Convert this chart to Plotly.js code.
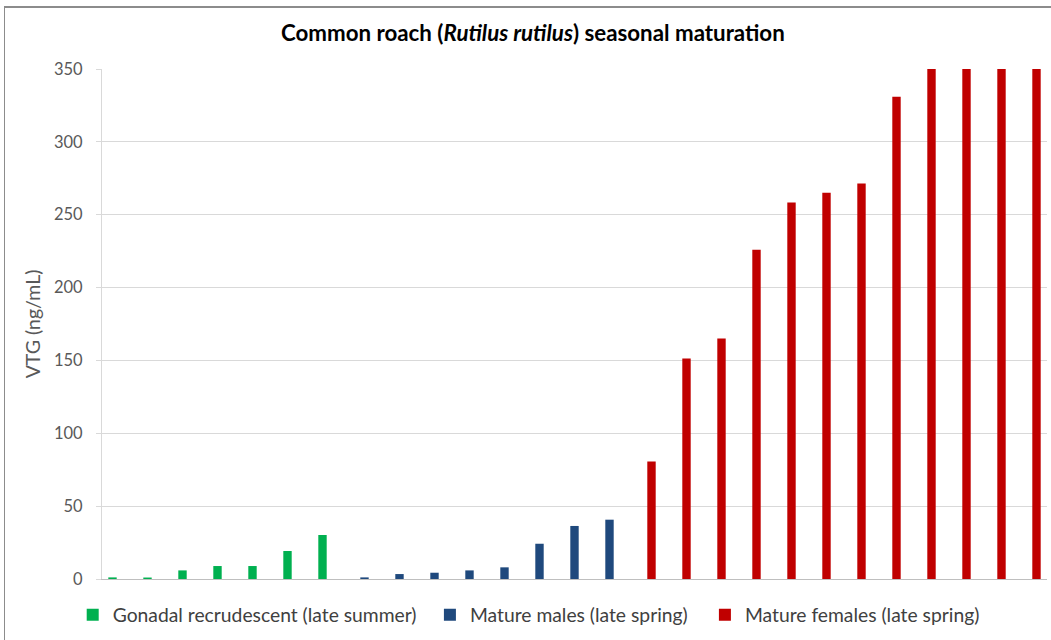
<!DOCTYPE html>
<html>
<head>
<meta charset="utf-8">
<script src="https://cdn.plot.ly/plotly-3.0.1.min.js"></script>
<style>
  html, body { margin: 0; padding: 0; background: #ffffff; }
  #frame { position: absolute; left: 4px; top: 6px; width: 1060px; height: 660px;
           border-left: 1px solid #8c8c8c; border-top: 2px solid #8c8c8c; box-sizing: border-box; }
  #chart { position: absolute; left: 0; top: 0; width: 1051px; height: 640px; }
</style>
</head>
<body>
<div id="frame"></div>
<div id="chart"></div>
<script>
// ---- data ----
const greenCats = ["G1","G2","G3","G4","G5","G6","G7"];
const greenVals = [1.1, 1.0, 5.9, 8.9, 8.9, 19.2, 30.2];

const blueCats = ["M1","M2","M3","M4","M5","M6","M7","M8"];
const blueVals = [1.1, 3.4, 4.3, 5.9, 8.0, 24.2, 36.4, 40.7];

const redCats = ["F1","F2","F3","F4","F5","F6","F7","F8","F9","F10","F11","F12"];
const redVals = [80.7, 151.4, 165.1, 226, 258.3, 265.1, 271.5, 331, 380, 420, 470, 520];

const seriesNames = [
  "Gonadal recrudescent (late summer)",
  "Mature males (late spring)",
  "Mature females (late spring)"
];
const yTicks = [0, 50, 100, 150, 200, 250, 300, 350];

// ---- styling ----
const FONT = "Lato, 'Open Sans', sans-serif";
const BW = 0.24;
const allCats = greenCats.concat(blueCats, redCats);

const traces = [
  { type: "bar", x: greenCats, y: greenVals, name: seriesNames[0],
    marker: { color: "#00b050" }, width: BW, offset: -BW / 2 - 0.2, legend: "legend" },
  { type: "bar", x: blueCats, y: blueVals, name: seriesNames[1],
    marker: { color: "#1f497d" }, width: BW, offset: -BW / 2, legend: "legend2" },
  { type: "bar", x: redCats, y: redVals, name: seriesNames[2],
    marker: { color: "#c00000" }, width: BW, offset: -BW / 2 + 0.2, legend: "legend3" }
];

const legendBase = {
  orientation: "h", yanchor: "middle", y: -0.071, xanchor: "left",
  font: { family: FONT, size: 19.3, color: "#404040" }, bgcolor: "rgba(0,0,0,0)"
};

const layout = {
  width: 1051, height: 640,
  margin: { l: 102, r: 4, t: 69, b: 61 },
  paper_bgcolor: "rgba(0,0,0,0)", plot_bgcolor: "rgba(0,0,0,0)",
  barmode: "overlay",
  showlegend: true,
  title: {
    text: "<b>Common roach (<i>Rutilus rutilus</i>) seasonal maturation</b>",
    font: { family: FONT, size: 22.3, color: "#000000" },
    x: 0.507, xanchor: "center", y: 0.948, yanchor: "middle"
  },
  xaxis: {
    type: "category", categoryorder: "array", categoryarray: allCats,
    range: [-0.5, allCats.length - 0.5],
    showticklabels: false, ticks: "", showgrid: false,
    showline: true, linecolor: "#bfbfbf", linewidth: 1, zeroline: false, fixedrange: true
  },
  yaxis: {
    range: [0, 350], tickvals: yTicks, ticktext: yTicks.map(String),
    showgrid: true, gridcolor: "#d9d9d9", gridwidth: 1,
    showline: true, linecolor: "#d9d9d9", linewidth: 1,
    ticks: "outside", ticklen: 5, tickcolor: "#d9d9d9",
    ticklabelstandoff: 10,
    tickfont: { family: FONT, size: 16.5, color: "#595959" },
    zeroline: false,
    title: { text: "VTG (ng/mL)", font: { family: FONT, size: 19.5, color: "#595959" }, standoff: 8 },
    fixedrange: true
  },
  legend: Object.assign({}, legendBase, { x: -0.031 }),
  legend2: Object.assign({}, legendBase, { x: 0.347 }),
  legend3: Object.assign({}, legendBase, { x: 0.638 })
};

Plotly.newPlot("chart", traces, layout, { displayModeBar: false, staticPlot: true });
</script>
</body>
</html>
